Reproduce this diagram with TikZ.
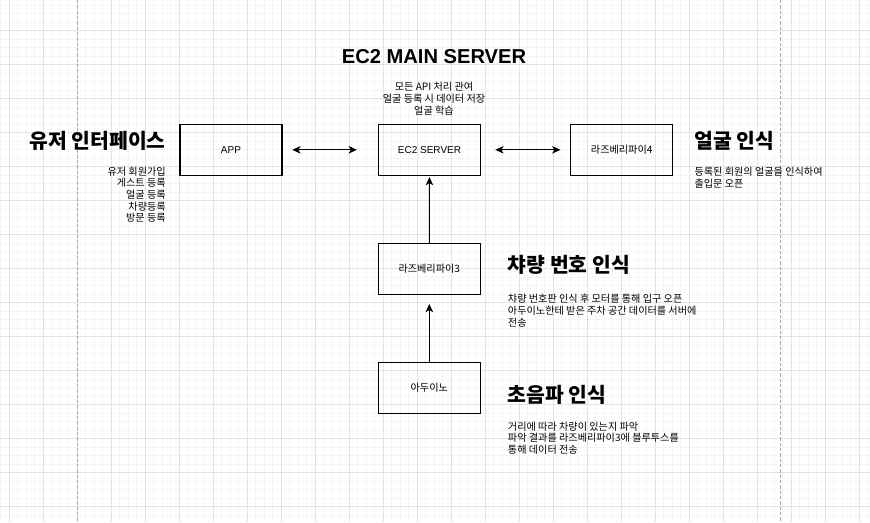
\documentclass[tikz,border=0pt]{standalone}
\usepackage{fontspec}
\setmainfont{Liberation Sans}
\newfontfamily\kr{Noto Sans CJK KR}
\usetikzlibrary{arrows.meta}

\definecolor{gridminor}{HTML}{F5F5F5}
\definecolor{gridmajor}{HTML}{E3E3E3}
\definecolor{pagerule}{HTML}{A8A8A8}

\begin{document}
\begin{tikzpicture}[x=0.75pt, y=-0.75pt,
    unit/.style={draw, line width=0.8pt, minimum width=76.5pt, minimum height=38pt,
        inner sep=0pt, font=\fontsize{7.5}{9}\selectfont},
    heading/.style={inner sep=0pt, font=\kr\bfseries\fontsize{15.3}{18}\selectfont},
    notes/.style={inner sep=0pt, font=\kr\fontsize{7.6}{8.8}\selectfont},
    link/.style={line width=0.8pt, -{Stealth[length=6.2pt, width=5.6pt, inset=1.6pt]}},
    twoway/.style={line width=0.8pt, {Stealth[length=6.2pt, width=5.6pt, inset=1.6pt]}-{Stealth[length=6.2pt, width=5.6pt, inset=1.6pt]}}]
    \useasboundingbox (0,0) rectangle (870,522);

    % background grid, as the editor shows it (minor every 8.5px, major every 34px)
    \foreach \x in {0.8,9.3,...,870} \draw[gridminor, line width=0.6pt] (\x,0) -- (\x,522);
    \foreach \y in {5.2,13.7,...,522} \draw[gridminor, line width=0.6pt] (0,\y) -- (870,\y);
    \foreach \x in {9.3,43.3,...,870} \draw[gridmajor, line width=0.7pt] (\x,0) -- (\x,522);
    \foreach \y in {30.7,64.7,...,522} \draw[gridmajor, line width=0.7pt] (0,\y) -- (870,\y);
    % page borders
    \draw[pagerule, line width=0.7pt, dash pattern=on 2.4pt off 1.6pt] (77.3,0) -- (77.3,522);
    \draw[pagerule, line width=0.7pt, dash pattern=on 2.4pt off 1.6pt] (780.3,0) -- (780.3,522);

    % boxes
    \node[unit] (app) at (231,149.8) {APP};
    \node[unit] (ec2) at (429.5,149.8) {EC2 SERVER};
    \node[unit, font=\kr\fontsize{7.6}{9}\selectfont] (rpi4) at (621.7,149.8) {라즈베리파이4};
    \node[unit, font=\kr\fontsize{7.6}{9}\selectfont] (rpi3) at (429.3,268.7) {라즈베리파이3};
    \node[unit, font=\kr\fontsize{7.6}{9}\selectfont] (arduino) at (429.3,387.8) {아두이노};

    % connectors
    \draw[twoway, shorten <=7.3pt, shorten >=15.8pt] (app) -- (ec2);
    \draw[twoway, shorten <=10.7pt, shorten >=7.3pt] (ec2) -- (rpi4);
    \draw[link, shorten >=1pt] (rpi3) -- (ec2);
    \draw[link, shorten >=7pt] (arduino) -- (rpi3);

    % titles and notes
    \node[inner sep=0pt, font=\bfseries\fontsize{15.1}{18}\selectfont] (servertitle) at (434,56.5) {EC2 MAIN SERVER};
    \node[notes, align=center] (servernotes) at (434,98.7) {모든 API 처리 관여\\얼굴 등록 시 데이터 저장\\얼굴 학습};

    \node[heading, anchor=east] (apptitle) at (166,140.5) {유저 인터페이스};
    \node[notes, align=right, anchor=east] (appnotes) at (166,194.7) {유저 회원가입\\게스트 등록\\얼굴 등록\\차량등록\\방문 등록};

    \node[heading, anchor=west] (facetitle) at (694.3,140.7) {얼굴 인식};
    \node[notes, align=left, anchor=west] (facenotes) at (694.3,177.7) {등록된 회원의 얼굴을 인식하여\\출입문 오픈};

    \node[heading, anchor=west] (platetitle) at (507.7,265) {챠량 번호 인식};
    \node[notes, align=left, anchor=west] (platenotes) at (507.7,310.5) {챠량 번호판 인식 후 모터를 통해 입구 오픈\\아두이노한테 받은 주차 공간 데이터를 서버에\\전송};

    \node[heading, anchor=west] (sonartitle) at (507.7,395) {초음파 인식};
    \node[notes, align=left, anchor=west] (sonarnotes) at (507.7,438) {거리에 따라 차량이 있는지 파악\\파악 결과를 라즈베리파이3에 블루투스를\\통해 데이터 전송};
\end{tikzpicture}
\end{document}
